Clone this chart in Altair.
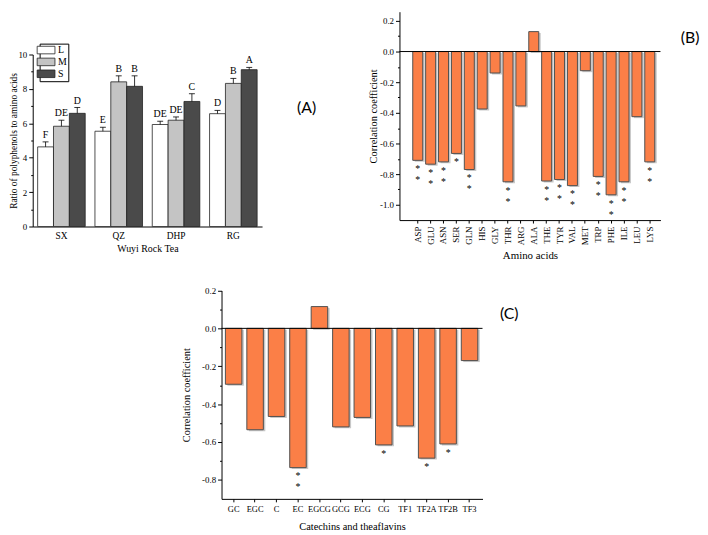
import altair as alt
import pandas as pd

SERIF = "Liberation Serif"
ORANGE = "#FB7F47"
EDGE = "#505050"
SHADOW = "#c8c8c8"

# ---------------- Panel A data ----------------
tea = ["SX", "QZ", "DHP", "RG"]
levels = ["L", "M", "S"]
ratio_L = [4.63, 5.54, 5.93, 6.56]
ratio_M = [5.83, 8.41, 6.18, 8.32]
ratio_S = [6.58, 8.15, 7.27, 9.12]
err_L = [0.29, 0.23, 0.19, 0.19]
err_M = [0.35, 0.35, 0.19, 0.29]
err_S = [0.34, 0.61, 0.45, 0.13]
letter_L = ["F", "E", "DE", "D"]
letter_M = ["DE", "B", "DE", "B"]
letter_S = ["D", "B", "C", "A"]

# ---------------- Panel B data ----------------
amino = ["ASP", "GLU", "ASN", "SER", "GLN", "HIS", "GLY", "THR", "ARG", "ALA",
         "THE", "TYR", "VAL", "MET", "TRP", "PHE", "ILE", "LEU", "LYS"]
r_amino = [-0.71, -0.735, -0.72, -0.665, -0.77, -0.375, -0.14, -0.85, -0.355, 0.13,
           -0.845, -0.835, -0.875, -0.125, -0.815, -0.935, -0.85, -0.425, -0.72]
stars_amino = [2, 2, 2, 1, 2, 0, 0, 2, 0, 0, 2, 2, 2, 0, 2, 2, 2, 0, 2]

# ---------------- Panel C data ----------------
catechins = ["GC", "EGC", "C", "EC", "EGCG", "GCG", "ECG", "CG", "TF1", "TF2A", "TF2B", "TF3"]
r_catechins = [-0.295, -0.535, -0.465, -0.735, 0.115, -0.52, -0.47, -0.615, -0.515, -0.685, -0.61, -0.17]
stars_catechins = [0, 0, 0, 2, 0, 0, 0, 1, 0, 1, 1, 0]

ticks_A = [0, 1, 2, 3, 4, 5, 6, 7, 8, 9, 10]
ticks_B = [-1.0, -0.9, -0.8, -0.7, -0.6, -0.5, -0.4, -0.3, -0.2, -0.1, 0.0, 0.1, 0.2]
ticks_C = [-0.8, -0.7, -0.6, -0.5, -0.4, -0.3, -0.2, -0.1, 0.0, 0.1, 0.2]

# ---------------- tables ----------------
rows = []
for lev, vals, errs, lets in zip(levels, [ratio_L, ratio_M, ratio_S],
                                 [err_L, err_M, err_S], [letter_L, letter_M, letter_S]):
    for t, v, e, l in zip(tea, vals, errs, lets):
        rows.append({"tea": t, "level": lev, "ratio": v, "top": v + e, "letter": l})
dfA = pd.DataFrame(rows)
dfB = pd.DataFrame({"name": amino, "r": r_amino, "stars": stars_amino})
dfC = pd.DataFrame({"name": catechins, "r": r_catechins, "stars": stars_catechins})

# overall plotting frame (pixels); each panel gets its own scale ranges inside it
W, H = 635, 493.5


def minor_tick_size(test):
    return {"condition": {"test": test, "value": 2}, "value": 4}


# ---------------- Panel A ----------------
A_x0, A_x1, A_ybot, A_ytop = 0, 232, 218, 44
xA = alt.X("tea:N", sort=tea, title="Wuyi Rock Tea",
           scale=alt.Scale(range=[A_x0, A_x1], paddingInner=0.17, paddingOuter=0.086),
           axis=alt.Axis(orient="bottom", offset=A_ybot - H, labelAngle=0, ticks=False,
                         labelFontSize=9.5, titleFontSize=10, titlePadding=4, labelPadding=4))
xoffA = alt.XOffset("level:N", sort=levels, scale=alt.Scale(paddingInner=0, paddingOuter=0))
yA_scale = alt.Scale(domain=[0, 10], nice=False, range=[A_ybot, A_ytop])
yA_axis = alt.Axis(orient="left", offset=-A_x0, values=ticks_A,
                   title="Ratio of polyphenols to amino acids",
                   labelExpr="datum.value % 2 == 0 ? datum.label : ''",
                   tickSize=minor_tick_size("datum.value % 2 == 1"),
                   labelFontSize=9, titleFontSize=9.5, titleX=-14.5, labelPadding=2)

barsA = alt.Chart(dfA).mark_bar(stroke="#222222", strokeWidth=0.8).encode(
    x=xA, xOffset=xoffA,
    y=alt.Y("ratio:Q", scale=yA_scale, axis=yA_axis),
    fill=alt.Fill("level:N", sort=levels,
                  scale=alt.Scale(domain=levels, range=["#ffffff", "#c4c4c4", "#4a4a4a"]),
                  legend=alt.Legend(title=None, orient="none", legendX=7, legendY=33,
                                    strokeColor="black", padding=1.5, fillColor="white",
                                    symbolType="M-2,-0.85H2V0.85H-2Z", symbolSize=81,
                                    symbolStrokeColor="#222222", symbolStrokeWidth=0.8,
                                    labelFont=SERIF, labelFontSize=10, labelColor="black",
                                    rowPadding=0, labelOffset=7)),
)
errA = alt.Chart(dfA).mark_rule(color="black", strokeWidth=0.8).encode(
    x=xA, xOffset=xoffA,
    y=alt.Y("ratio:Q", scale=yA_scale, axis=yA_axis), y2="top:Q")
capA = alt.Chart(dfA).mark_point(shape="M-1,0L1,0", size=36, filled=False, stroke="black",
                                 strokeWidth=0.8, opacity=1).encode(
    x=xA, xOffset=xoffA, y=alt.Y("top:Q", scale=yA_scale, axis=yA_axis))
letA = alt.Chart(dfA).mark_text(font=SERIF, fontSize=10, baseline="bottom", dy=-2,
                                color="black").encode(
    x=xA, xOffset=xoffA, y=alt.Y("top:Q", scale=yA_scale, axis=yA_axis), text="letter:N")
labA = alt.Chart(pd.DataFrame({"t": ["(A)"]})).mark_text(
    font="Lato", fontSize=16, color="black").encode(
    text="t:N", x=alt.value(277), y=alt.value(98))
A = alt.layer(barsA, errA, capA, letA, labA)


# ---------------- correlation panels ----------------
def corr_panel(df, order, domain, ticks, xr, yr, xtitle, pin, pout, align,
               xlab_angle, xlab_size, xtitle_pad, title_x, xtitle_size, ytitle_size,
               tag, tag_xy):
    xenc = alt.X("name:N", sort=order, title=xtitle,
                 scale=alt.Scale(range=list(xr), paddingInner=pin, paddingOuter=pout, align=align),
                 axis=alt.Axis(orient="bottom", offset=yr[0] - H, labelAngle=xlab_angle,
                               labelFontSize=xlab_size, titleFontSize=xtitle_size,
                               titlePadding=xtitle_pad, tickSize=3, labelPadding=3))
    ysc = alt.Scale(domain=domain, nice=False, zero=False, range=list(yr))
    yax = alt.Axis(orient="left", offset=-xr[0], values=ticks, title="Correlation coefficient",
                   labelExpr="abs(round(datum.value*10)) % 2 == 0 ? "
                             "replace(format(datum.value, '.1f'), '\u2212', '-') : ''",
                   tickSize=minor_tick_size("abs(round(datum.value*10)) % 2 == 1"),
                   labelFontSize=9, titleFontSize=ytitle_size, titleX=title_x,
                   labelPadding=2)
    yenc = alt.Y("r:Q", scale=ysc, axis=yax)
    shadow = alt.Chart(df).mark_bar(fill=SHADOW, xOffset=2, yOffset=1.5).encode(x=xenc, y=yenc)
    bars = alt.Chart(df).mark_bar(fill=ORANGE, stroke=EDGE, strokeWidth=1).encode(x=xenc, y=yenc)
    zero = alt.Chart(pd.DataFrame({"r": [0.0]})).mark_rule(color="black", strokeWidth=1).encode(
        y=yenc, x=alt.value(xr[0]), x2=alt.value(xr[1]))
    s1 = alt.Chart(df).transform_filter("datum.stars >= 1").mark_text(
        text="*", font=SERIF, fontSize=10, baseline="alphabetic", dy=12, color="black").encode(
        x=xenc, y=yenc)
    s2 = alt.Chart(df).transform_filter("datum.stars >= 2").mark_text(
        text="*", font=SERIF, fontSize=10, baseline="alphabetic", dy=23, color="black").encode(
        x=xenc, y=yenc)
    lab = alt.Chart(pd.DataFrame({"t": [tag]})).mark_text(
        font="Lato", fontSize=16, color="black").encode(
        text="t:N", x=alt.value(tag_xy[0]), y=alt.value(tag_xy[1]))
    return alt.layer(shadow, bars, zero, s1, s2, lab)


B = corr_panel(dfB, amino, [-1.1, 0.26], ticks_B, (371, 635), (211.5, 0.7), "Amino acids",
               0.225, 0.736, 0.7, 270, 9, 5, -21, 11, 10.5, "(B)", (665, 27))
C = corr_panel(dfC, catechins, [-0.9, 0.2], ticks_C, (191, 455), (493.5, 282.7),
               "Catechins and theaflavins",
               0.23, 0.2, 0.45, 0, 8.5, 8, -30.5, 10.5, 10.5, "(C)", (482, 307))

chart = alt.layer(A, B, C).resolve_scale(
    x="independent", y="independent"
).resolve_axis(
    x="independent", y="independent"
).properties(
    width=W, height=H, padding=0
).configure_view(stroke=None).configure_axis(
    domainColor="black", tickColor="black", labelColor="black", titleColor="black",
    labelFont=SERIF, titleFont=SERIF, titleFontWeight="normal", grid=False,
    domainWidth=1, tickWidth=1
)

chart.save("out.html", embed_options={"renderer": "svg", "actions": False})
